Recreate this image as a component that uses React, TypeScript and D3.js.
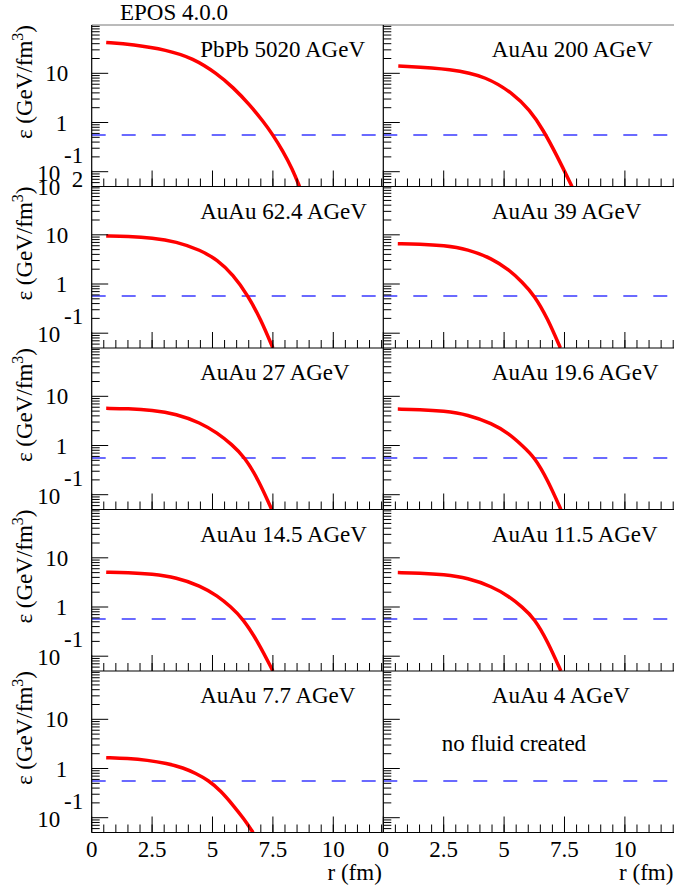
import React from "react";
import * as d3 from "d3";

const W = 674;
const H = 888;

// ---------- data ----------
const panelTitles = [
  "PbPb 5020 AGeV",
  "AuAu 200 AGeV",
  "AuAu 62.4 AGeV",
  "AuAu 39 AGeV",
  "AuAu 27 AGeV",
  "AuAu 19.6 AGeV",
  "AuAu 14.5 AGeV",
  "AuAu 11.5 AGeV",
  "AuAu 7.7 AGeV",
  "AuAu 4 AGeV",
];

const rPbPb5020 = [0.6, 1.7, 3.1, 4.2, 5.17, 5.85, 6.54, 7.1, 7.48, 7.92, 8.3, 8.6];
const ePbPb5020 = [42.5, 38.5, 30, 20.2, 10, 5.2, 2.3, 1.05, 0.58, 0.26, 0.115, 0.05];

const rAuAu200 = [0.62, 2.89, 4.27, 5.37, 6.06, 6.61, 7.17, 7.81];
const eAuAu200 = [14.1, 12.3, 8.5, 3.9, 1.8, 0.72, 0.22, 0.05];

const rAuAu62 = [0.6, 1.5, 2.5, 3.5, 4.5, 5.2, 5.85, 6.47, 7.0, 7.5];
const eAuAu62 = [9.5, 9.3, 8.7, 7.3, 4.9, 3.1, 1.55, 0.58, 0.19, 0.05];

const rAuAu39 = [0.6, 1.5, 2.5, 3.5, 4.5, 5.2, 5.75, 6.26, 6.8, 7.33];
const eAuAu39 = [6.6, 6.5, 6.1, 5.1, 3.3, 1.95, 1.1, 0.58, 0.2, 0.05];

const rAuAu27 = [0.6, 1.5, 2.5, 3.5, 4.5, 5.2, 5.8, 6.33, 6.9, 7.45];
const eAuAu27 = [5.7, 5.6, 5.25, 4.4, 2.9, 1.8, 1.05, 0.58, 0.2, 0.05];

const rAuAu19 = [0.6, 1.5, 2.5, 3.5, 4.5, 5.2, 5.75, 6.26, 6.8, 7.35];
const eAuAu19 = [5.5, 5.4, 5.05, 4.25, 2.8, 1.75, 1.0, 0.58, 0.2, 0.05];

const rAuAu14 = [0.6, 1.5, 2.5, 3.5, 4.5, 5.2, 5.75, 6.26, 6.9, 7.5];
const eAuAu14 = [5.1, 5.0, 4.7, 4.0, 2.7, 1.7, 1.02, 0.58, 0.19, 0.05];

const rAuAu11 = [0.6, 1.5, 2.5, 3.5, 4.5, 5.2, 5.75, 6.26, 6.8, 7.35];
const eAuAu11 = [5.0, 4.9, 4.6, 3.9, 2.6, 1.65, 1.0, 0.58, 0.2, 0.05];

const rAuAu7 = [0.6, 1.5, 2.3, 3.1, 3.8, 4.3, 4.82, 5.35, 5.85, 6.3, 6.68];
const eAuAu7 = [1.66, 1.6, 1.48, 1.28, 1.03, 0.8, 0.58, 0.35, 0.18, 0.095, 0.05];

const curveR = [rPbPb5020, rAuAu200, rAuAu62, rAuAu39, rAuAu27, rAuAu19, rAuAu14, rAuAu11, rAuAu7, []];
const curveE = [ePbPb5020, eAuAu200, eAuAu62, eAuAu39, eAuAu27, eAuAu19, eAuAu14, eAuAu11, eAuAu7, []];

const epsFreeze = 0.57;

const xMajorTicks = [0, 2.5, 5, 7.5, 10];
const xTickLabels = ["0", "2.5", "5", "7.5", "10"];
const xMinorTicks = d3.range(0.5, 12.01, 0.5);
const yMajorTicks = [0.1, 1, 10];
const yMinorTicks = [0.06, 0.07, 0.08, 0.09, 0.2, 0.3, 0.4, 0.5, 0.6, 0.7, 0.8, 0.9, 2, 3, 4, 5, 6, 7, 8, 9, 20, 30, 40, 50, 60, 70, 80, 90];

// ---------- layout ----------
const colX = [91.7, 383.3];
const panelW = 291.6;
const rowTop0 = 25;
const rowH = 161.5;
const FONT = '"Liberation Serif", "DejaVu Serif", "Times New Roman", Times, serif';
const FS = 23;

export default function App() {
  const panels = panelTitles.map((t, i) => {
    const col = i % 2;
    const row = Math.floor(i / 2);
    const x0 = colX[col];
    const y0 = rowTop0 + row * rowH;
    const x = d3.scaleLinear().domain([0, 12.07]).range([x0, x0 + panelW]);
    const y = d3.scaleLog().domain([0.05, 96]).range([y0 + rowH, y0]);
    const pts = curveR[i].map((r, k) => [r, curveE[i][k]] as [number, number]);
    const line = d3
      .line<[number, number]>()
      .x((d) => x(d[0]))
      .y((d) => y(d[1]))
      .curve(d3.curveBasis);
    return { t, i, col, row, x0, y0, x, y, pts, line };
  });

  const txt = { fontFamily: FONT, fontSize: FS } as React.CSSProperties;

  return (
    <svg
      width={W}
      height={H}
      style={{ position: "absolute", left: 0, top: 0, background: "#fff", fontFamily: FONT }}
    >
      <rect x={0} y={0} width={W} height={H} fill="#fff" />
      <defs>
        {panels.map((p) => (
          <clipPath id={`clip${p.i}`} key={p.i}>
            <rect x={p.x0} y={p.y0} width={panelW} height={rowH} />
          </clipPath>
        ))}
      </defs>

      <text x={120} y={20} style={txt} fill="#000">
        EPOS 4.0.0
      </text>

      {/* top frame */}
      <line x1={colX[0]} x2={W} y1={rowTop0} y2={rowTop0} stroke="#777" strokeWidth={1} />

      {panels.map((p) => {
        const yb = p.y0 + rowH;
        const yf = Math.round(p.y(epsFreeze));
        return (
          <g key={p.i}>
            {/* dashed freeze-out line */}
            <line
              x1={p.x0}
              x2={p.x0 + panelW}
              y1={yf}
              y2={yf}
              stroke="#3a3aff"
              strokeWidth={1.3}
              strokeDasharray="14,16"
            />
            {/* curve */}
            {p.pts.length > 0 && (
              <path
                d={p.line(p.pts) || ""}
                fill="none"
                stroke="#ff0000"
                strokeWidth={3.5}
                clipPath={`url(#clip${p.i})`}
              />
            )}
            {/* x ticks */}
            {xMinorTicks.map((v) => (
              <line key={`xm${v}`} x1={p.x(v)} x2={p.x(v)} y1={yb} y2={yb - 8} stroke="#000" strokeWidth={1} />
            ))}
            {xMajorTicks.map((v) => (
              <line key={`xM${v}`} x1={p.x(v)} x2={p.x(v)} y1={yb} y2={yb - 16} stroke="#000" strokeWidth={1} />
            ))}
            {/* y ticks */}
            {yMinorTicks.map((v) => (
              <line key={`ym${v}`} x1={p.x0} x2={p.x0 + 8} y1={p.y(v)} y2={p.y(v)} stroke="#000" strokeWidth={1} />
            ))}
            {yMajorTicks.map((v) => (
              <line key={`yM${v}`} x1={p.x0} x2={p.x0 + 16.5} y1={p.y(v)} y2={p.y(v)} stroke="#000" strokeWidth={1} />
            ))}
            {/* axes */}
            <line x1={p.x0} x2={p.x0} y1={p.y0} y2={yb} stroke="#000" strokeWidth={1.2} />
            <line x1={p.x0} x2={p.x0 + panelW} y1={yb} y2={yb} stroke="#000" strokeWidth={1.2} />
            {/* title */}
            <text x={p.x0 + 108.5} y={p.y0 + 32} style={txt} fill="#000">
              {p.t}
            </text>
            {p.i === 9 && (
              <text x={p.x0 + 58.5} y={p.y0 + 80} style={txt} fill="#000">
                no fluid created
              </text>
            )}
            {/* left column labels */}
            {p.col === 0 && (
              <g fill="#000">
                <text x={p.x0 - 23.5} y={p.y(10)} dy="0.35em" textAnchor="end" style={txt}>
                  10
                </text>
                <text x={p.x0 - 24.5} y={p.y(1)} dy="0.35em" textAnchor="end" style={txt}>
                  1
                </text>
                <text x={p.x0 - 31.5} y={p.y(0.1) + 1} dy="0.35em" textAnchor="end" style={txt}>
                  10
                </text>
                <text x={p.x0 - 8.5} y={p.y(0.1) - 17} dy="0.35em" textAnchor="end" style={txt}>
                  -1
                </text>
                {p.row === 1 && (
                  <>
                    <text x={p.x0 - 31.5} y={p.y0 + 0.5} dy="0.35em" textAnchor="end" style={txt}>
                      10
                    </text>
                    <text x={p.x0 - 8.5} y={p.y0 - 7.5} dy="0.35em" textAnchor="end" style={txt}>
                      2
                    </text>
                  </>
                )}
                <text transform={`translate(31.5, ${p.y0}) rotate(-90)`} textAnchor="end" style={txt}>
                  ε (GeV/fm
                  <tspan style={{ fontSize: 16 }} dy={-9}>
                    3
                  </tspan>
                  <tspan dy={9}>)</tspan>
                </text>
              </g>
            )}
            {/* bottom row labels */}
            {p.row === 4 && (
              <g fill="#000">
                {xMajorTicks.map((v, k) => (
                  <text key={`xl${v}`} x={p.x(v)} y={857} textAnchor="middle" style={txt}>
                    {xTickLabels[k]}
                  </text>
                ))}
                <text x={p.x0 + panelW - 1.5} y={880} textAnchor="end" style={txt}>
                  r (fm)
                </text>
              </g>
            )}
          </g>
        );
      })}
    </svg>
  );
}
